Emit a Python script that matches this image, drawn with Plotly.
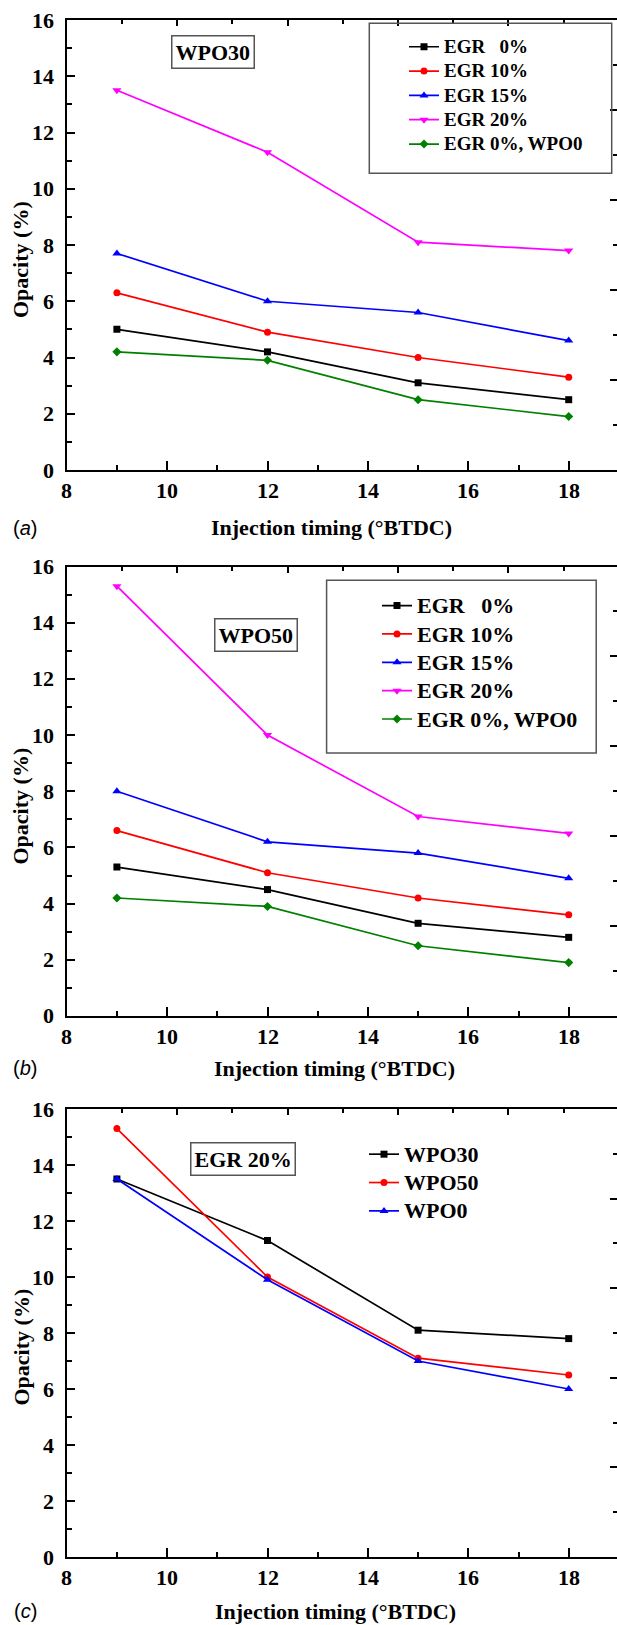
import plotly.graph_objects as go

# ---------------- data ----------------
timing = [9, 12, 15, 18]

# Panel (a) WPO30
a_egr0 = [5.0, 4.2, 3.1, 2.5]
a_egr10 = [6.3, 4.9, 4.0, 3.3]
a_egr15 = [7.7, 6.0, 5.6, 4.6]
a_egr20 = [13.5, 11.3, 8.1, 7.8]
a_wpo0 = [4.2, 3.9, 2.5, 1.9]

# Panel (b) WPO50
b_egr0 = [5.3, 4.5, 3.3, 2.8]
b_egr10 = [6.6, 5.1, 4.2, 3.6]
b_egr15 = [8.0, 6.2, 5.8, 4.9]
b_egr20 = [15.3, 10.0, 7.1, 6.5]
b_wpo0 = [4.2, 3.9, 2.5, 1.9]

# Panel (c) EGR 20%
c_wpo30 = [13.5, 11.3, 8.1, 7.8]
c_wpo50 = [15.3, 10.0, 7.1, 6.5]
c_wpo0 = [13.5, 9.9, 7.0, 6.0]

names_ab = ["EGR\u00a0\u00a0\u00a00%", "EGR 10%", "EGR 15%", "EGR 20%", "EGR 0%, WPO0"]
names_c = ["WPO30", "WPO50", "WPO0"]
panel_tags = ["WPO30", "WPO50", "EGR 20%"]
panel_letters = ["a", "b", "c"]
x_title = "Injection timing (°BTDC)"
y_title = "Opacity (%)"

# tick labels
x_tickvals = [8, 10, 12, 14, 16, 18]
x_ticktext = ["8", "10", "12", "14", "16", "18"]
y_tickvals = [0, 2, 4, 6, 8, 10, 12, 14, 16]
y_ticktext = ["0", "2", "4", "6", "8", "10", "12", "14", "16"]

colors5 = ["#000000", "#FF0000", "#0000FF", "#FF00FF", "#008000"]
symbols5 = ["square", "circle", "triangle-up", "triangle-down", "diamond"]
msizes5 = [7, 7, 8, 8, 7]

# ---------------- layout geometry ----------------
W, H = 617, 1625
SERIF = "Liberation Serif"
X_LEFT = 66.7
# panel pixel extents (top, bottom)
panels_px = [(20, 470), (566.5, 1016), (1109, 1557)]
XMAX = 8 + (W - X_LEFT) / 50.2
TOPMAX = 10 * (XMAX - 8) / 11.0
# legend: (row-spacing font size, displayed text size)
leg_style = {1: (16.4, 19), 2: (19.5, 22), 3: (19.5, 22)}


def ydom(top, bottom):
    return [1 - bottom / H, 1 - top / H]


xdom = [X_LEFT / W, 1.0]

fig = go.Figure()

series = [
    (list(zip(names_ab, [a_egr0, a_egr10, a_egr15, a_egr20, a_wpo0], colors5, symbols5, msizes5)), 1),
    (list(zip(names_ab, [b_egr0, b_egr10, b_egr15, b_egr20, b_wpo0], colors5, symbols5, msizes5)), 2),
    (list(zip(names_c, [c_wpo30, c_wpo50, c_wpo0], colors5[:3], symbols5[:3], msizes5[:3])), 3),
]

for items, k in series:
    suffix = "" if k == 1 else str(k)
    txt_size = leg_style[k][1]
    for name, vals, col, sym, ms in items:
        fig.add_trace(go.Scatter(
            x=timing, y=vals,
            name='<span style="font-size:%dpx">%s</span>' % (txt_size, name),
            mode="lines+markers",
            line=dict(color=col, width=1.7),
            marker=dict(color=col, symbol=sym, size=ms),
            xaxis="x" + suffix, yaxis="y" + suffix,
            legend="legend" + suffix,
        ))
    # empty trace to register overlay subplot (top / right frame ticks)
    fig.add_trace(go.Scatter(x=[], y=[], xaxis="x" + str(k + 3), yaxis="y" + str(k + 3),
                             showlegend=False, hoverinfo="skip"))

layout = dict(
    width=W, height=H, margin=dict(l=0, r=0, t=0, b=0),
    paper_bgcolor="white", plot_bgcolor="white", showlegend=True,
)

for k, (top, bot) in enumerate(panels_px, start=1):
    s = "" if k == 1 else str(k)
    dom = ydom(top, bot)
    layout["xaxis" + s] = dict(
        domain=xdom, anchor="y" + s, range=[8, XMAX],
        tickmode="array", tickvals=x_tickvals,
        ticks="inside", ticklen=9, tickwidth=2, tickcolor="black",
        minor=dict(dtick=1, tick0=8, ticks="inside", ticklen=5, tickwidth=2, tickcolor="black"),
        showline=True, linewidth=2, linecolor="black", showgrid=False, zeroline=False,
        showticklabels=False, mirror=False,
    )
    layout["yaxis" + s] = dict(
        domain=dom, anchor="x" + s, range=[0, 16],
        tickmode="array", tickvals=y_tickvals,
        ticks="inside", ticklen=8, tickwidth=2, tickcolor="black",
        minor=dict(dtick=1, tick0=0, ticks="inside", ticklen=5, tickwidth=2, tickcolor="black"),
        showline=True, linewidth=2, linecolor="black", showgrid=False, zeroline=False,
        showticklabels=False,
    )
    o = str(k + 3)
    layout["xaxis" + o] = dict(
        domain=xdom, anchor="y" + s, overlaying="x" + s, side="top",
        range=[0, TOPMAX], tick0=0, dtick=2,
        ticks="inside", ticklen=6, tickwidth=2, tickcolor="black",
        minor=dict(dtick=1, tick0=0, ticks="inside", ticklen=4, tickwidth=2, tickcolor="black"),
        showline=True, linewidth=2, linecolor="black", showgrid=False, zeroline=False,
        showticklabels=False,
    )
    layout["yaxis" + o] = dict(
        domain=dom, anchor="x" + s, overlaying="y" + s, side="right",
        range=[0, 10], tick0=0, dtick=2,
        ticks="inside", ticklen=7, tickwidth=2, tickcolor="black",
        minor=dict(dtick=1, tick0=0, ticks="inside", ticklen=4, tickwidth=2, tickcolor="black"),
        showline=False, showgrid=False, zeroline=False, showticklabels=False,
    )

# legends
leg_pos = {1: (404, 29.6), 2: (377, 586.4), 3: (364, 1135)}
for k in (1, 2, 3):
    key = "legend" if k == 1 else "legend%d" % k
    lx, ly = leg_pos[k]
    layout[key] = dict(
        x=lx / W, y=1 - ly / H, xanchor="left", yanchor="top",
        font=dict(family=SERIF, size=leg_style[k][0], color="black", weight="bold"),
        bgcolor="rgba(0,0,0,0)", borderwidth=0, tracegroupgap=0,
    )

shapes = [
    dict(type="rect", xref="paper", yref="paper",
         x0=369.3 / W, x1=611.7 / W, y0=1 - 173.3 / H, y1=1 - 23.3 / H,
         line=dict(color="#555555", width=1.5)),
    dict(type="rect", xref="paper", yref="paper",
         x0=326.6 / W, x1=596.2 / W, y0=1 - 753.1 / H, y1=1 - 580.3 / H,
         line=dict(color="#555555", width=1.5)),
]
layout["shapes"] = shapes

tfont = dict(family=SERIF, size=22, color="black")
annotations = []
tag_pos = [(212.5, 52), (256.4, 635), (243.4, 1158.5)]
xt_pos = [(331, 528), (334, 1068), (336, 1611)]
yt_pos = [(20, 260), (20, 806.5), (21, 1347.5)]
for i in range(3):
    s = "" if i == 0 else str(i + 1)
    top, bot = panels_px[i]
    # tick labels drawn through the axis scales
    for v, t in zip(x_tickvals, x_ticktext):
        annotations.append(dict(
            text="<b>%s</b>" % t, x=v, xref="x" + s, y=1 - (bot + 20) / H, yref="paper",
            showarrow=False, font=tfont, xanchor="center", yanchor="middle",
        ))
    for v, t in zip(y_tickvals, y_ticktext):
        annotations.append(dict(
            text="<b>%s</b>" % t, x=56 / W, xref="paper", y=v, yref="y" + s,
            showarrow=False, font=tfont, xanchor="right", yanchor="middle",
        ))
    tx, ty = tag_pos[i]
    annotations.append(dict(
        text="<b>%s</b>" % panel_tags[i], x=tx / W, y=1 - ty / H, xref="paper", yref="paper",
        showarrow=False, font=tfont,
        bordercolor="#555555", borderwidth=1.5, borderpad=3, bgcolor="white",
        xanchor="center", yanchor="middle",
    ))
    xx, xy = xt_pos[i]
    annotations.append(dict(
        text="<b>%s</b>" % x_title, x=xx / W, y=1 - xy / H, xref="paper", yref="paper",
        showarrow=False, font=tfont, xanchor="center", yanchor="middle",
    ))
    yx, yy = yt_pos[i]
    annotations.append(dict(
        text="<b>%s</b>" % y_title, x=yx / W, y=1 - yy / H, xref="paper", yref="paper",
        showarrow=False, font=tfont, textangle=-90,
        xanchor="center", yanchor="middle",
    ))
    annotations.append(dict(
        text="(<i>%s</i>)" % panel_letters[i], x=25 / W, y=1 - xy / H, xref="paper", yref="paper",
        showarrow=False, font=dict(family="Liberation Sans", size=20, color="black"),
        xanchor="center", yanchor="middle",
    ))
layout["annotations"] = annotations

fig.update_layout(**layout)
fig.write_html("out.html")
